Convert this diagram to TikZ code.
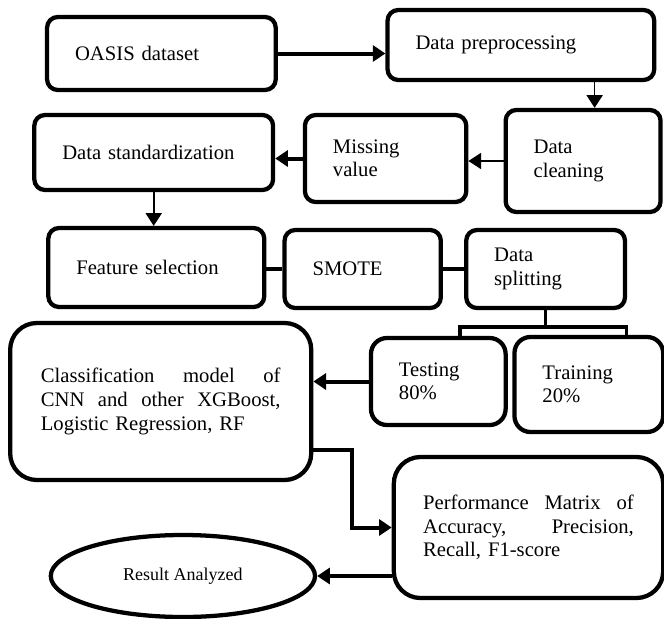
\documentclass[tikz,border=0pt]{standalone}
\usepackage{fontspec}
\setmainfont{Liberation Serif}
\usetikzlibrary{arrows.meta,shapes.geometric}

\begin{document}
\begin{tikzpicture}[
x=0.75pt, y=-0.75pt,
box/.style={draw, line width=3.2pt, rounded corners=8pt, inner xsep=21pt, align=left,
  font=\fontsize{15.5}{17.5}\selectfont},
bigbox/.style={box, rounded corners=20pt},
>={Triangle[length=9.5pt,width=12pt]}
]
\useasboundingbox (0,0) rectangle (664,618);

% first row
\node[box, minimum width=171.5pt, minimum height=54.75pt, text width=129.5pt] (oasis) at (161.4,53.5) {OASIS dataset};
\node[box, minimum width=200pt, minimum height=52.5pt, text width=158pt] (prep) at (520.9,45) {Data preprocessing};

% second row
\node[box, minimum width=116.2pt, minimum height=76.5pt, text width=74.2pt] (clean) at (583.1,161) {Data\\cleaning};
\node[box, minimum width=121pt, minimum height=65.25pt, text width=79pt] (missing) at (385.6,158.5) {Missing\\value};
\node[box, minimum width=179.1pt, minimum height=56.25pt, text width=137.1pt] (std) at (153.7,152.5) {Data standardization};

% third row
\node[box, minimum width=162pt, minimum height=59.25pt, text width=120pt] (feat) at (156.3,267.5) {Feature selection};
\node[box, minimum width=117.2pt, minimum height=58.5pt, text width=75.2pt] (smote) at (362.7,269) {SMOTE};
\node[box, minimum width=119.1pt, minimum height=58.5pt, text width=77.1pt] (split) at (545.6,269) {Data\\splitting};

% split and models
\node[box, rounded corners=12pt, minimum width=101pt, minimum height=65.25pt, text width=59pt] (test) at (438.3,381.5) {Testing\\80\%};
\node[box, rounded corners=12pt, minimum width=111.5pt, minimum height=71.25pt, text width=69.5pt] (train) at (588.8,384.5) {Training\\20\%};
\node[bigbox, inner xsep=23pt, minimum width=225.8pt, minimum height=117.75pt, text width=179.8pt,
  font=\fontsize{15.5}{18}\selectfont] (class) at (160.7,401.5)
  {Classification\hfill model\hfill of\\CNN\hfill and\hfill other\hfill XGBoost,\\Logistic Regression, RF};
\node[bigbox, inner xsep=22pt, minimum width=202pt, minimum height=105.75pt, text width=158pt] (perf) at (528.5,527.5)
  {Performance\hfill Matrix\hfill of\\Accuracy,\hfill Precision,\\Recall, F1-score};
\node[ellipse, draw, line width=3.2pt, minimum width=198.2pt, minimum height=61.5pt,
  font=\fontsize{13.5}{15}\selectfont] (result) at (182.9,576) {Result Analyzed};

\coordinate (bend) at (351.9,450);

\draw[->, line width=3pt] (oasis.east) -- (oasis.east -| prep.west);
\draw[->, line width=1.2pt] ([xshift=55.3pt]prep.south) -- ([xshift=55.3pt]prep.south |- clean.north);
\draw[->, line width=1.2pt] (clean.west) -- (clean.west -| missing.east);
\draw[->, line width=3pt] (missing.west) -- (missing.west -| std.east);
\draw[->, line width=1.2pt] (std.south) -- (std.south |- feat.north);
\draw[line width=2.5pt] (smote.west -| feat.east) -- (smote.west);
\draw[line width=3pt] (smote.east) -- (split.west);
\draw[line width=2.5pt] (split.south) -- ++(0,17) coordinate (fork);
\draw[line width=2.5pt] ([xshift=16.2pt]test.north) |- (fork) -| ([xshift=28.1pt]train.north);
\draw[->, line width=3pt] (test.west) -- (test.west -| class.east);
\draw[->, line width=3pt] (bend -| class.east) -- (bend) |- (perf.west);
\draw[->, line width=3pt] (perf.west |- result) -- (result);
\end{tikzpicture}
\end{document}
